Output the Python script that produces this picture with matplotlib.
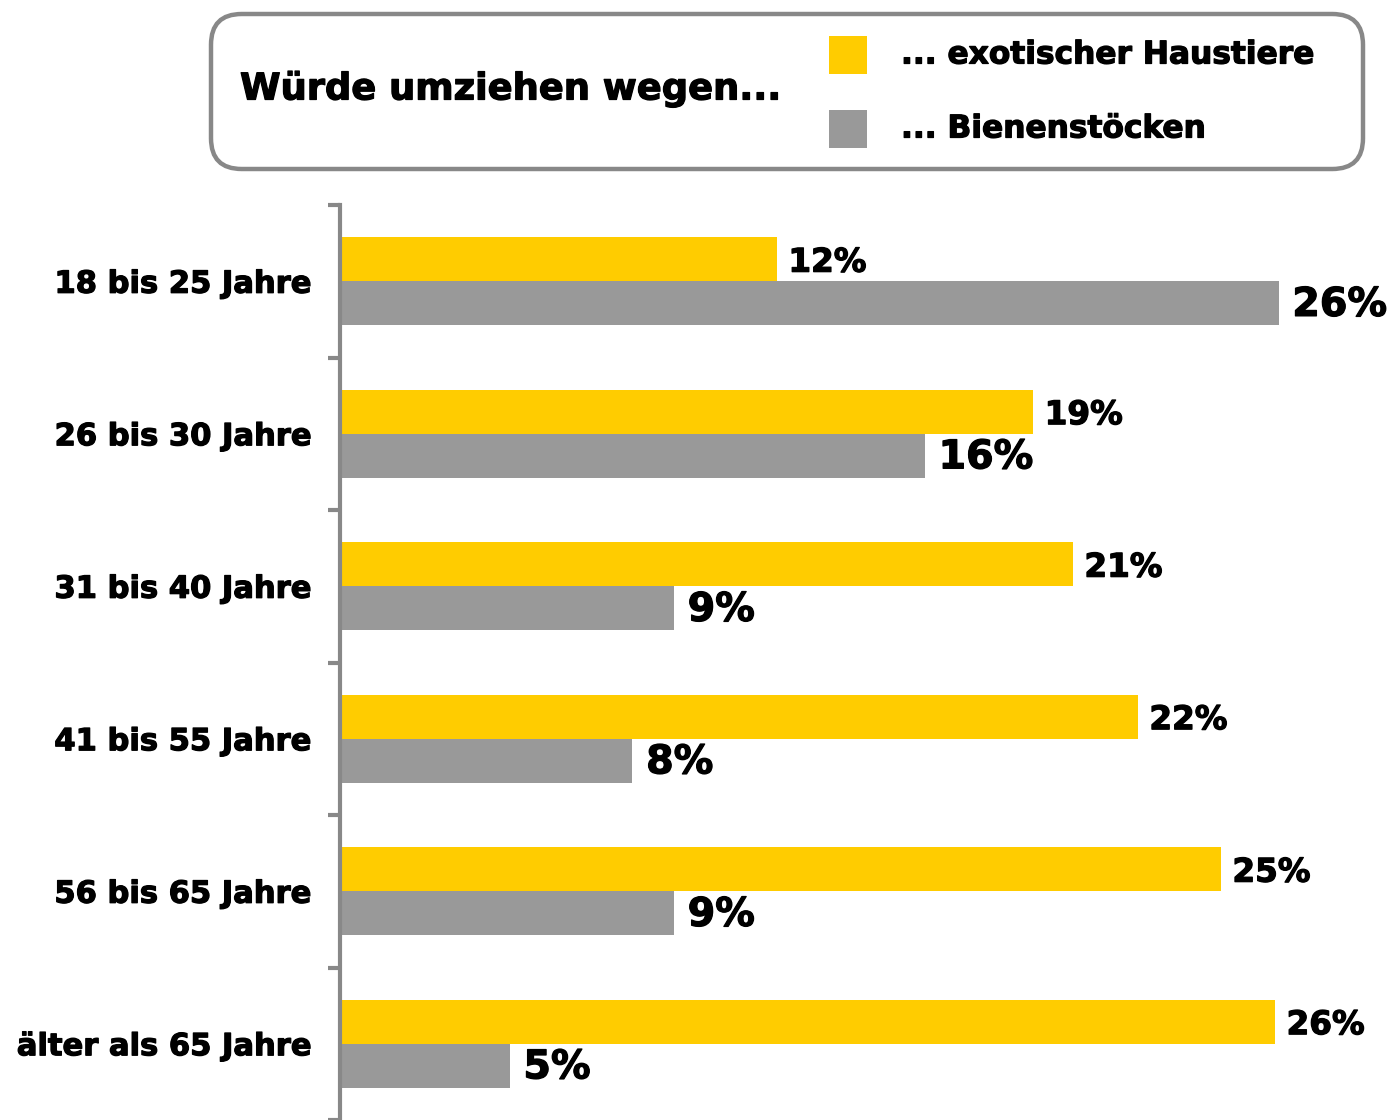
import matplotlib
matplotlib.use("Agg")
import matplotlib.pyplot as plt
import matplotlib.patheffects as pe
from matplotlib.patches import FancyBboxPatch, Rectangle
import numpy as np

# data (bar lengths, labels as printed)
categories = ["18 bis 25 Jahre", "26 bis 30 Jahre", "31 bis 40 Jahre",
              "41 bis 55 Jahre", "56 bis 65 Jahre", "älter als 65 Jahre"]
exotic_pets = [12.1, 19.2, 20.3, 22.1, 24.4, 25.9]
beehives = [26.0, 16.2, 9.25, 8.1, 9.25, 4.7]
exotic_labels = ["12%", "19%", "21%", "22%", "25%", "26%"]
bee_labels = ["26%", "16%", "9%", "8%", "9%", "5%"]
series_names = ["... exotischer Haustiere", "... Bienenstöcken"]
legend_title = "Würde umziehen wegen..."

YELLOW = "#FFCC00"
GRAY = "#999999"
AXIS = "#888888"

plt.rcParams['font.family'] = ['DejaVu Sans']
plt.rcParams['font.weight'] = 'bold'

# a thin outline makes DejaVu Bold look closer to the heavier original face
heavy = [pe.withStroke(linewidth=0.9, foreground='black')]

W, H = 1395, 1120
fig = plt.figure(figsize=(W / 100, H / 100), dpi=100)

ax_left = 340 / W
ax_top = 1 - 205 / H
ax = fig.add_axes([ax_left, 0, 1 - ax_left, ax_top])

px_per_pct = 36.1
ax.set_xlim(0, (W - 340) / px_per_pct)
n = len(categories)
ax.set_ylim(n - 0.5, -0.5)

y = np.arange(n)
h = 0.29
ax.barh(y - h / 2, exotic_pets, height=h, color=YELLOW, zorder=2)
ax.barh(y + h / 2, beehives, height=h, color=GRAY, zorder=2)

for i in range(n):
    ax.text(exotic_pets[i] + 0.32, y[i] - h / 2 + 0.02, exotic_labels[i],
            va='center', ha='left', fontsize=23.5, fontweight='bold',
            path_effects=heavy)
    ax.text(beehives[i] + 0.38, y[i] + h / 2 + 0.01, bee_labels[i],
            va='center', ha='left', fontsize=28.5, fontweight='bold',
            path_effects=heavy)

# axis styling
for s in ['top', 'right', 'bottom']:
    ax.spines[s].set_visible(False)
ax.spines['left'].set_color(AXIS)
ax.spines['left'].set_linewidth(3)
ax.set_xticks([])
ax.set_yticks(y)
ax.set_yticklabels(categories, fontsize=22, fontweight='bold')
for lab in ax.get_yticklabels():
    lab.set_path_effects(heavy)
ax.tick_params(axis='y', length=0, pad=21)
ax.set_yticks(np.arange(n + 1) - 0.5, minor=True)
ax.tick_params(axis='y', which='minor', length=9, width=3, color=AXIS)

# legend box
box = FancyBboxPatch((211 / W, 1 - 169 / H), (1363 - 211) / W, (169 - 14) / H,
                     boxstyle="round,pad=0,rounding_size=0.022",
                     transform=fig.transFigure, facecolor='white',
                     edgecolor=AXIS, linewidth=3.2, mutation_aspect=W / H)
fig.patches.append(box)
fig.text(240 / W, 1 - 89 / H, legend_title, fontsize=26.5, fontweight='bold',
         va='center', ha='left', path_effects=heavy)
for j, (name, col) in enumerate(zip(series_names, [YELLOW, GRAY])):
    yc = 55 + j * 74
    fig.patches.append(Rectangle((829 / W, 1 - (yc + 19) / H), 38 / W, 38 / H,
                                 transform=fig.transFigure, facecolor=col,
                                 edgecolor='none'))
    fig.text(901 / W, 1 - yc / H, name, fontsize=22.5, fontweight='bold',
             va='center', ha='left', path_effects=heavy)

fig.savefig("out.png", dpi=100)
